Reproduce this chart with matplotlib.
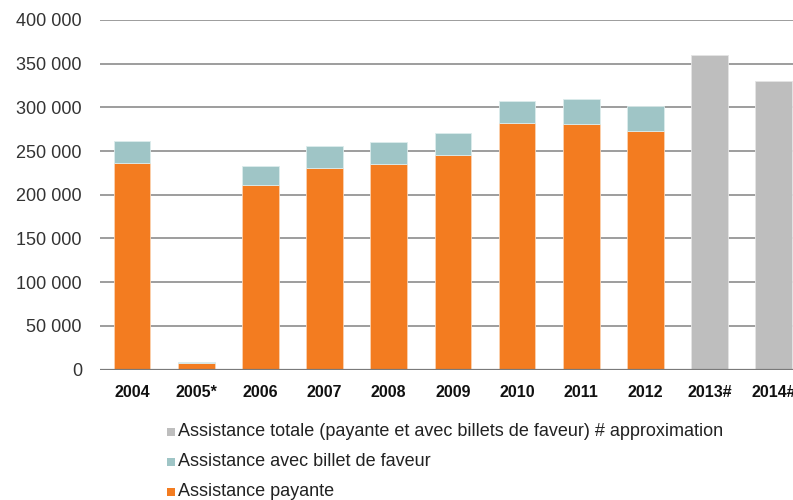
import matplotlib.pyplot as plt
from matplotlib.patches import Rectangle
from matplotlib.ticker import FuncFormatter

# Attendance per season
years = ["2004", "2005*", "2006", "2007", "2008", "2009", "2010", "2011", "2012", "2013#", "2014#"]
payante = [236000, 7000, 211000, 231000, 235000, 246000, 282000, 281000, 273000, 0, 0]
faveur = [25000, 1200, 22000, 25000, 25000, 25000, 25000, 28500, 29000, 0, 0]
totale = [0, 0, 0, 0, 0, 0, 0, 0, 0, 360000, 330000]

c_pay = "#f37c20"
c_fav = "#9fc5c6"
c_tot = "#bebebe"

plt.rcParams["font.family"] = ["Liberation Sans", "DejaVu Sans"]

fig = plt.figure(figsize=(7.93, 5.0), dpi=100)
ax = fig.add_axes([100 / 793, 130.5 / 500, 1 - 100 / 793, (369.5 - 20) / 500])

x = list(range(len(years)))
w = 0.57
ax.bar(x, payante, w, color=c_pay, edgecolor="#fbd2b0", linewidth=0.6, zorder=3)
ax.bar(x, faveur, w, bottom=payante, color=c_fav, edgecolor="#dcecec", linewidth=0.6, zorder=3)
ax.bar(x, totale, w, color=c_tot, edgecolor="#e4e4e4", linewidth=0.6, zorder=3)

ax.set_ylim(0, 400000)
ax.set_xlim(-0.5, 10.3)
ax.set_yticks(range(0, 400001, 50000))
ax.yaxis.set_major_formatter(FuncFormatter(lambda v, p: f"{int(v):,}".replace(",", " ")))
ax.set_xticks(x)
ax.set_xticklabels(years, fontweight="bold", fontsize=11.5, color="#111111")

ax.grid(axis="y", color="#8c8c8c", linewidth=1.2, zorder=0)
ax.axhline(0, color="#7a7a7a", linewidth=1.6, zorder=4)
for s in ax.spines.values():
    s.set_visible(False)
ax.tick_params(axis="y", length=0, pad=13, labelsize=13, labelcolor="#333333")
ax.tick_params(axis="x", length=0, pad=11)

# Legend drawn below the plot
legend_items = [
    (c_tot, "Assistance totale (payante et avec billets de faveur) # approximation"),
    (c_fav, "Assistance avec billet de faveur"),
    (c_pay, "Assistance payante"),
]
for i, (col, label) in enumerate(legend_items):
    yc = 432 + i * 30
    fig.add_artist(Rectangle((167 / 793, (500 - yc - 4) / 500), 8 / 793, 8 / 500,
                             transform=fig.transFigure, facecolor=col, edgecolor="none"))
    fig.text(178 / 793, (500 - yc) / 500, label, fontsize=13, color="#222222",
             va="center", ha="left")

fig.savefig("out.png", dpi=100)
